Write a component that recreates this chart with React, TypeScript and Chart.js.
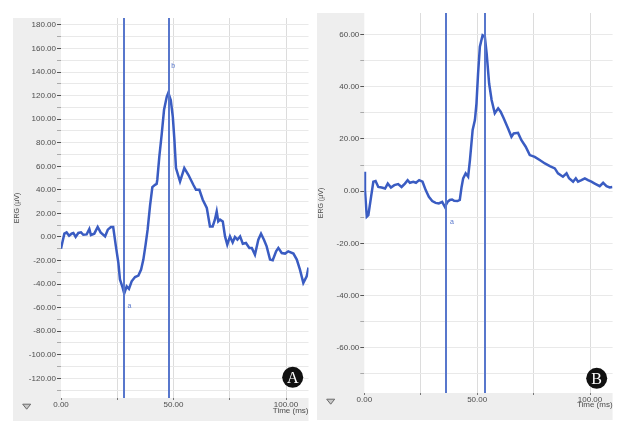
import { useEffect, useRef } from 'react';
import { Chart, registerables } from 'chart.js';

Chart.register(...registerables);

// ---- Panel A data ----
const timeA = [0, 0.6, 1.5, 2.5, 3.6, 4.7, 5.5, 6.5, 7.7, 8.9, 9.9, 11.4, 12.6, 13.3, 14.8, 16.3, 17.6, 19.6, 20.8, 22.2, 23.2, 24.4, 25.5, 26.2, 27.4, 28.1, 29.2, 30.2, 31.4, 32.9, 34.4, 35.6, 36.6, 37.6, 38.5, 39.6, 40.6, 41.8, 42.5, 42.8, 43.7, 44.8, 45.8, 47.0, 47.7, 48.8, 49.7, 50.4, 51.1, 52.9, 54.8, 56.6, 58.8, 60, 61.5, 63, 64.8, 66.2, 67.4, 68.4, 69.2, 69.9, 70.7, 71.9, 72.9, 73.9, 75.1, 76.3, 77.3, 78.4, 79.6, 80.8, 82.2, 83.7, 84.8, 86.2, 87.7, 88.9, 90.2, 91.4, 92.9, 94.1, 95.6, 96.6, 98.1, 99.6, 101, 103.3, 104.8, 106.2, 107.7, 109.2, 110];
const ergA = [-10, -4.6, 2.8, 3.9, 1.1, 2.8, 3.4, 0, 3.4, 3.9, 1.9, 2.2, 6.8, 1.7, 2.8, 8.5, 3.9, 0.5, 6.2, 8.5, 8.5, -8, -22, -36, -43, -48, -42, -44, -37.6, -34, -32.8, -27.7, -19.2, -6.5, 6.2, 27, 42.4, 44.3, 45, 48.6, 68.3, 88, 108, 119, 122.5, 116, 102, 82.5, 58.5, 47, 58.5, 52.8, 44.3, 40, 40, 31.6, 24.6, 9, 9, 14.7, 21.7, 13.2, 14.7, 13.2, 0.5, -6.5, 0.5, -4.6, 0, -2.3, 0.5, -5.7, -5.1, -9.3, -9.3, -15, -2.3, 2.8, -2.3, -8, -19.2, -19.8, -12.2, -9.3, -13.6, -14.1, -12.2, -14.1, -19.2, -27.7, -39, -33.4, -26];
const yTicksA = [-130, -120, -110, -100, -90, -80, -70, -60, -50, -40, -30, -20, -10, 0, 10, 20, 30, 40, 50, 60, 70, 80, 90, 100, 110, 120, 130, 140, 150, 160, 170, 180];
const cursorsA = [28, 48];
const markersA = [
  { t: 29.5, v: -59, text: 'a' },
  { t: 49, v: 145, text: 'b' },
];

// ---- Panel B data ----
const timeB = [0, 0.3, 1.1, 1.8, 3, 4, 5, 6.2, 7.7, 9.2, 10.4, 11.8, 13.3, 15, 16.5, 18, 19.2, 20.2, 21.7, 22.9, 24.3, 25.8, 27.2, 28.6, 30.1, 31.6, 33, 34.5, 35.7, 36.9, 37.9, 38.9, 39.8, 41.3, 42.3, 43.1, 43.8, 44.9, 46, 46.8, 48, 49, 49.7, 50.4, 51.2, 52.4, 53.4, 54.2, 55.3, 56.4, 57.8, 59.3, 60.4, 61.8, 63.7, 65.2, 66.2, 68.1, 69.6, 71.5, 73.3, 75.5, 77.7, 80, 82.2, 84.4, 85.8, 88, 89.6, 90.7, 92.5, 93.7, 94.7, 96.2, 97.7, 99.1, 100.6, 102.1, 104.3, 105.8, 107.3, 108.7, 109.9];
const ergB = [7.4, 0.4, -9.8, -9.2, -2.2, 3.6, 3.9, 1.6, 1.4, 1, 2.9, 1.4, 2.3, 2.7, 1.6, 2.9, 4.2, 3.2, 3.6, 3.2, 4.2, 3.6, 0.4, -2.2, -3.8, -4.5, -4.7, -4.1, -6, -4.1, -3.4, -3.2, -3.7, -3.8, -3.4, 1.6, 4.9, 6.8, 5.5, 11.9, 23.4, 27.2, 33.6, 45, 55.3, 59.7, 59.1, 52.7, 41.2, 34.9, 29.8, 31.7, 30.4, 27.8, 24, 20.8, 22.1, 22.3, 19.5, 17, 13.8, 13.1, 11.9, 10.6, 9.6, 8.7, 6.8, 5.5, 6.8, 4.9, 3.6, 4.9, 3.6, 4.2, 4.9, 4.2, 3.6, 2.9, 1.9, 3.2, 1.9, 1.4, 1.6];
const yTicksB = [-70, -60, -50, -40, -30, -20, -10, 0, 10, 20, 30, 40, 50, 60];
const cursorsB = [36, 53.4];
const markersB = [{ t: 38, v: -12, text: 'a' }];

const xTicks = [0, 25, 50, 75, 100];
const xLabelEvery = 50;
const yLabelEvery = 20;

const FONT = 'Liberation Sans, Arial, sans-serif';
const LINE = '#3a5cc2';
const CURSOR = '#5877cc';

const decoPlugin = {
  id: 'panelDeco',
  beforeDraw(chart: any, _a: any, o: any) {
    const { ctx, chartArea: ca } = chart;
    ctx.save();
    ctx.fillStyle = '#eeeeee';
    ctx.fillRect(o.bandLeft, o.bandTop, ca.left - o.bandLeft, o.bandBottom - o.bandTop);
    ctx.fillRect(o.bandLeft, ca.bottom, ca.right - o.bandLeft, o.bandBottom - ca.bottom);
    ctx.restore();
  },
  afterDatasetsDraw(chart: any, _a: any, o: any) {
    const { ctx, chartArea: ca, scales } = chart;
    const xs = scales.x, ys = scales.y;
    ctx.save();
    ctx.strokeStyle = CURSOR;
    ctx.lineWidth = 2;
    for (const c of o.cursors) {
      const px = Math.round(xs.getPixelForValue(c));
      ctx.beginPath();
      ctx.moveTo(px, ca.top);
      ctx.lineTo(px, ca.bottom);
      ctx.stroke();
    }
    ctx.fillStyle = CURSOR;
    ctx.font = '7px ' + FONT;
    ctx.textAlign = 'left';
    ctx.textBaseline = 'middle';
    for (const m of o.markers) {
      ctx.fillText(m.text, xs.getPixelForValue(m.t), ys.getPixelForValue(m.v));
    }
    ctx.restore();
  },
  afterDraw(chart: any, _a: any, o: any) {
    const { ctx, chartArea: ca } = chart;
    ctx.save();
    const cx = ca.right + o.badgeDx, cy = ca.bottom + o.badgeDy;
    ctx.fillStyle = '#111111';
    ctx.beginPath();
    ctx.arc(cx, cy, 10.5, 0, Math.PI * 2);
    ctx.fill();
    ctx.fillStyle = '#ffffff';
    ctx.font = '16px "Liberation Serif", "DejaVu Serif", serif';
    ctx.textAlign = 'center';
    ctx.textBaseline = 'middle';
    ctx.fillText(o.letter, cx, cy + 1);
    const tx = o.bandLeft + 13.7, ty = ca.bottom + 8.7;
    ctx.fillStyle = '#c8c8c8';
    ctx.strokeStyle = '#6a6a6a';
    ctx.lineWidth = 1;
    ctx.beginPath();
    ctx.moveTo(tx - 4, ty - 2.5);
    ctx.lineTo(tx + 4, ty - 2.5);
    ctx.lineTo(tx, ty + 2.5);
    ctx.closePath();
    ctx.fill();
    ctx.stroke();
    ctx.restore();
  },
};

type PanelProps = {
  width: number;
  height: number;
  left: number;
  time: number[];
  erg: number[];
  yMin: number;
  yMax: number;
  yTicks: number[];
  cursors: number[];
  markers: { t: number; v: number; text: string }[];
  letter: string;
  pad: { left: number; top: number; right: number; bottom: number };
  bandBottom: number;
  yWidth: number;
  xHeight: number;
  badgeDx: number;
  badgeDy: number;
};

function Panel(p: PanelProps) {
  const ref = useRef<HTMLCanvasElement | null>(null);
  useEffect(() => {
    if (!ref.current) return;
    const points = p.time.map((t, i) => ({ x: t, y: p.erg[i] }));
    const chart = new Chart(ref.current, {
      type: 'line',
      data: {
        datasets: [
          {
            data: points,
            borderColor: LINE,
            borderWidth: 2.5,
            pointRadius: 0,
            tension: 0,
            fill: false,
          },
        ],
      },
      options: {
        animation: false,
        responsive: false,
        maintainAspectRatio: false,
        layout: { padding: p.pad },
        plugins: {
          legend: { display: false },
          tooltip: { enabled: false },
          panelDeco: {
            bandLeft: p.pad.left,
            bandTop: p.pad.top,
            bandBottom: p.bandBottom,
            cursors: p.cursors,
            markers: p.markers,
            letter: p.letter,
            badgeDx: p.badgeDx,
            badgeDy: p.badgeDy,
          },
        } as any,
        scales: {
          x: {
            type: 'linear',
            min: 0,
            max: 110,
            afterBuildTicks: (s: any) => {
              s.ticks = xTicks.map((v) => ({ value: v }));
            },
            afterFit: (s: any) => {
              s.height = p.xHeight;
            },
            border: { display: false },
            grid: {
              color: (c: any) => (c.tick && c.tick.value === 0 ? 'rgba(0,0,0,0)' : '#dcdcdc'),
              lineWidth: 1,
              tickColor: '#777777',
              tickLength: 2,
            },
            ticks: {
              autoSkip: false,
              maxRotation: 0,
              padding: 0,
              color: '#4d4d4d',
              font: { family: FONT, size: 8 },
              callback: (v: any) => (Number(v) % xLabelEvery === 0 ? Number(v).toFixed(2) : ''),
            },
            title: {
              display: true,
              text: 'Time (ms)',
              align: 'end',
              color: '#4d4d4d',
              font: { family: FONT, size: 8 },
              padding: { top: 0, bottom: 0 },
            },
          },
          y: {
            type: 'linear',
            min: p.yMin,
            max: p.yMax,
            afterBuildTicks: (s: any) => {
              s.ticks = p.yTicks.map((v) => ({ value: v }));
            },
            afterFit: (s: any) => {
              s.width = p.yWidth;
            },
            border: { display: false },
            grid: {
              color: '#e9e9e9',
              lineWidth: 1,
              tickColor: (c: any) => (c.tick && c.tick.value % yLabelEvery === 0 ? '#555555' : '#aaaaaa'),
              tickLength: 4,
            },
            ticks: {
              autoSkip: false,
              padding: 1,
              color: '#4d4d4d',
              font: { family: FONT, size: 8 },
              callback: (v: any) => (Number(v) % yLabelEvery === 0 ? Number(v).toFixed(2) : ''),
            },
            title: {
              display: true,
              text: 'ERG (µV)',
              color: '#4d4d4d',
              font: { family: FONT, size: 7 },
              padding: { top: 0, bottom: 0 },
            },
          },
        },
      },
      plugins: [decoPlugin as any],
    });
    return () => chart.destroy();
  }, []);
  return (
    <canvas
      ref={ref}
      width={p.width}
      height={p.height}
      style={{ position: 'absolute', left: p.left, top: 0, width: p.width, height: p.height, display: 'block' }}
    />
  );
}

export default function App() {
  return (
    <div style={{ position: 'fixed', left: 0, top: 0, width: 619, height: 423, background: '#ffffff', overflow: 'hidden' }}>
      <Panel
        width={313}
        height={423}
        left={0}
        time={timeA}
        erg={ergA}
        yMin={-136.7}
        yMax={185.9}
        yTicks={yTicksA}
        cursors={cursorsA}
        markers={markersA}
        letter="A"
        pad={{ left: 13, top: 18, right: 4.5, bottom: 7 }}
        bandBottom={421}
        yWidth={48}
        xHeight={18}
        badgeDx={-15.8}
        badgeDy={-20.7}
      />
      <Panel
        width={306}
        height={423}
        left={313}
        time={timeB}
        erg={ergB}
        yMin={-77.3}
        yMax={68.2}
        yTicks={yTicksB}
        cursors={cursorsB}
        markers={markersB}
        letter="B"
        pad={{ left: 4, top: 13, right: 6.4, bottom: 13 }}
        bandBottom={420}
        yWidth={47.3}
        xHeight={17}
        badgeDx={-15.9}
        badgeDy={-14.7}
      />
    </div>
  );
}
